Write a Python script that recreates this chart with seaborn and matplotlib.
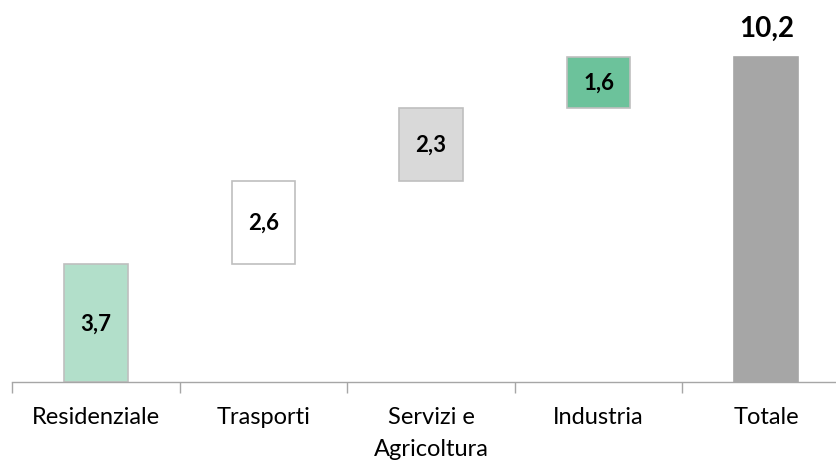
import matplotlib
matplotlib.use("Agg")
import matplotlib.pyplot as plt
import seaborn as sns
import numpy as np

categories = ["Residenziale", "Trasporti", "Servizi e\nAgricoltura", "Industria", "Totale"]
values = [3.7, 2.6, 2.3, 1.6, 10.2]
labels = ["3,7", "2,6", "2,3", "1,6", "10,2"]
colors = ["#b2dfca", "#ffffff", "#d9d9d9", "#6cc29b", "#a6a6a6"]
edges = ["#bfbfbf", "#bfbfbf", "#bfbfbf", "#bfbfbf", "#a6a6a6"]

bases = list(np.cumsum([0] + values[:3])) + [0]

sns.set_style("white")
plt.rcParams['font.family'] = ['Lato', 'DejaVu Sans']

fig = plt.figure(figsize=(8.37, 4.64), dpi=100)
ax = fig.add_axes([12/837, 1-383/464, 838/837, (383-32.5)/464])

sns.barplot(x=categories, y=values, color="#ffffff", saturation=1,
            bottom=bases, width=0.38, ax=ax, linewidth=1.2)
for p, fc, ec in zip(ax.patches, colors, edges):
    p.set_facecolor(fc)
    p.set_edgecolor(ec)

for i, (b, v, lab) in enumerate(zip(bases, values, labels)):
    if i == 4:
        ax.text(i, b + v + 0.66, lab, ha="center", va="baseline", fontsize=20,
                fontweight="bold", color="black")
    else:
        ax.text(i, b + v/2, lab, ha="center", va="center", fontsize=16,
                fontweight="bold", color="black")

ax.set_xlim(-0.5, 4.5)
ax.set_ylim(0, 11)
ax.set_yticks([])
ax.set_xticks([i - 0.5 for i in range(5)], minor=True)
ax.tick_params(axis="x", which="minor", bottom=True, length=8, color="#a6a6a6", width=1)
ax.tick_params(axis="x", which="major", length=0, labelsize=17, pad=17, labelcolor="black")
for t in ax.get_xticklabels():
    t.set_linespacing(1.65)
for s in ["top", "right", "left"]:
    ax.spines[s].set_visible(False)
ax.spines["bottom"].set_color("#a6a6a6")
ax.spines["bottom"].set_linewidth(1)
ax.set_xlabel("")
ax.set_ylabel("")

fig.savefig("out.png", dpi=100)
